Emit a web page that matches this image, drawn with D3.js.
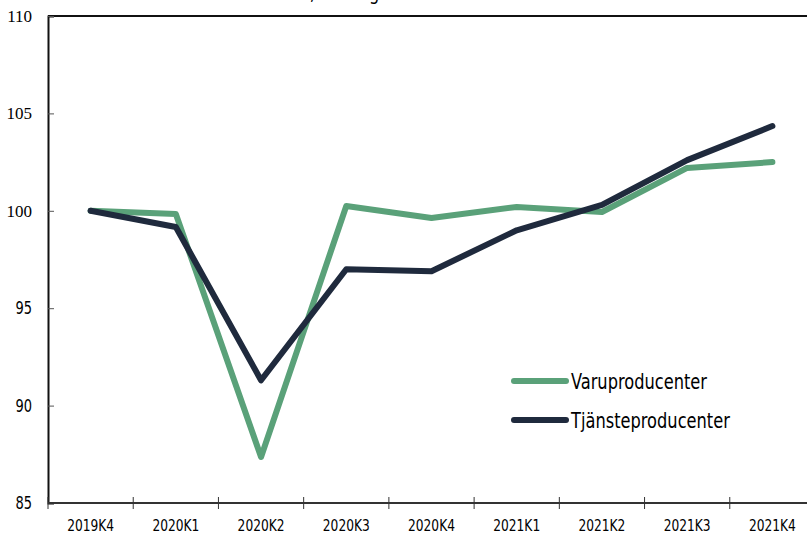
<!DOCTYPE html>
<meta charset="utf-8">
<style>
body { margin: 0; background: #fff; }
.cond { font-family: "DejaVu Sans Condensed", "Liberation Sans Narrow", sans-serif; font-stretch: condensed; }
</style>
<body>
<div id="chart"></div>
<script src="https://cdn.jsdelivr.net/npm/d3@7"></script>
<script>

var width = 807;
var height = 535;

// data
var quarters = ["2019K4", "2020K1", "2020K2", "2020K3", "2020K4",
                "2021K1", "2021K2", "2021K3", "2021K4"];
var varu    = [100, 99.84, 87.36, 100.25, 99.63, 100.2, 99.94, 102.2, 102.5];
var tjanste = [100, 99.17, 91.3, 97.0, 96.9, 99.0, 100.3, 102.6, 104.35];
var yTicks  = [85, 90, 95, 100, 105, 110];

var seriesNames  = ["Varuproducenter", "Tjänsteproducenter"];
var seriesColors = ["#5aa179", "#1f2a3d"];

var svg = d3.select("#chart")
            .append("svg")
            .attr("width", width)
            .attr("height", height);

var x = d3.scaleBand().domain(quarters).range([48, 815]);
var y = d3.scaleLinear().domain([85, 110]).range([503, 16]);

// narrow text: the original uses a condensed face, so squeeze horizontally
function narrow(sel, px, py, sx) {
  return sel.attr("transform", "translate(" + px + "," + py + ") scale(" + sx + ",1)");
}

// cut-off title at top (only the descenders show in the original)
narrow(svg.append("text"), 315, 0, 0.9)
   .attr("class", "cond")
   .attr("text-anchor", "end")
   .style("font-size", "20px")
   .text("Index 2019K4=100,");
narrow(svg.append("text"), 322, 0, 0.9)
   .attr("class", "cond")
   .style("font-size", "20px")
   .text("säsongsrensat");

// frame: top and left
svg.append("line")
   .attr("x1", 48).attr("x2", width)
   .attr("y1", 16).attr("y2", 16)
   .attr("stroke", "#111").attr("stroke-width", 2);

var yAxis = d3.axisRight(y).tickValues(yTicks).tickSize(6).tickFormat("");
svg.append("g")
   .attr("transform", "translate(48,0)")
   .call(yAxis)
   .call(function(g) {
     g.select(".domain").attr("stroke", "#111").attr("stroke-width", 2);
     g.selectAll(".tick line").attr("stroke", "#555");
   });

// y labels (upper ones look serif in the original)
svg.selectAll(".ylab")
   .data(yTicks)
   .enter()
   .append("text")
   .attr("class", function(d) { return d >= 100 ? "ylab" : "ylab cond"; })
   .attr("transform", function(d) {
     return "translate(32," + (y(d) + 6) + ") scale(" + (d >= 100 ? 1 : 0.85) + ",1)";
   })
   .attr("text-anchor", "end")
   .style("font-family", function(d) { return d >= 100 ? "Liberation Serif" : null; })
   .style("font-size", function(d) { return d >= 100 ? "17px" : "17px"; })
   .text(function(d) { return d; });

// x axis with ticks at band edges
var edges = quarters.map(function(q) { return x(q); });
svg.append("line")
   .attr("x1", 48).attr("x2", width)
   .attr("y1", y(85)).attr("y2", y(85))
   .attr("stroke", "#333").attr("stroke-width", 2);
svg.selectAll(".xtick")
   .data(edges)
   .enter()
   .append("line")
   .attr("class", "xtick")
   .attr("x1", function(d) { return d; }).attr("x2", function(d) { return d; })
   .attr("y1", y(85) - 6).attr("y2", y(85) + 6)
   .attr("stroke", "#333").attr("stroke-width", 1);

svg.selectAll(".xlab")
   .data(quarters)
   .enter()
   .append("text")
   .attr("class", "xlab cond")
   .attr("transform", function(d) {
     return "translate(" + (x(d) + x.bandwidth() / 2) + ",531) scale(0.85,1)";
   })
   .attr("text-anchor", "middle")
   .style("font-size", "16px")
   .text(function(d) { return d; });

// lines
var line = d3.line()
  .x(function(d, i) { return x(quarters[i]) + x.bandwidth() / 2; })
  .y(function(d) { return y(d); });

[varu, tjanste].forEach(function(s, k) {
  svg.append("path")
     .datum(s)
     .attr("d", line)
     .attr("fill", "none")
     .attr("stroke", seriesColors[k])
     .attr("stroke-width", 6)
     .attr("stroke-linejoin", "round")
     .attr("stroke-linecap", "round");
});

// legend
seriesNames.forEach(function(name, k) {
  var ly = 381 + k * 39;
  svg.append("line")
     .attr("x1", 514).attr("x2", 566)
     .attr("y1", ly).attr("y2", ly)
     .attr("stroke", seriesColors[k])
     .attr("stroke-width", 6)
     .attr("stroke-linecap", "round");
  narrow(svg.append("text"), 571, ly + 8, 0.86)
     .attr("class", "cond")
     .style("font-size", "21px")
     .text(name);
});

</script>
</body>
